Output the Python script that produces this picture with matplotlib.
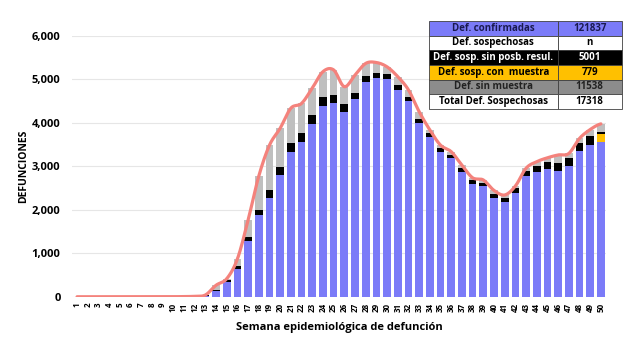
import matplotlib
matplotlib.use("Agg")
import matplotlib.pyplot as plt
import numpy as np

plt.rcParams['font.family'] = ['Open Sans', 'DejaVu Sans']

weeks = list(range(1, 51))

# confirmed deaths (blue)
confirmadas = [2, 3, 2, 3, 2, 3, 3, 2, 3, 4, 5, 8,
               30, 140, 350, 645, 1290, 1885, 2270, 2800, 3340, 3570,
               3975, 4400, 4450, 4260, 4540, 4950, 5040, 5000, 4760, 4515,
               4000, 3670, 3340, 3190, 2880, 2600, 2540, 2270, 2180, 2400,
               2770, 2880, 2935, 2905, 3010, 3365, 3495, 3555]
# suspected, with sample (yellow)
con_muestra = [0] * 48 + [10, 190]
# suspected, no possible result (black)
sin_posb = [0] * 12 + [5, 30, 50, 75, 100, 115, 200, 190, 190, 190,
                       200, 200, 200, 180, 160, 140, 120, 120, 115, 90,
                       100, 90, 75, 75, 90, 90, 90, 100, 100, 100,
                       115, 130, 160, 170, 175, 170, 190, 45]
# no sample (gray)
sin_muestra = [3, 2, 3, 2, 3, 2, 2, 3, 3, 3, 4, 8,
               10, 100, 20, 155, 380, 780, 1020, 890, 810, 690,
               625, 580, 570, 395, 400, 280, 230, 170, 190, 155,
               160, 80, 75, 75, 60, 50, 60, 80, 65, 50,
               75, 100, 105, 190, 115, 110, 155, 190]

table_labels = ["Def. confirmadas", "Def. sospechosas", "Def. sosp. sin posb. resul.",
                "Def. sosp. con  muestra", "Def. sin muestra", "Total Def. Sospechosas"]
table_values = ["121837", "n", "5001", "779", "11538", "17318"]

BLUE = '#7B7BF8'
GRAY = '#BFBFBF'
YELLOW = '#FFC000'
LINE = '#F4827C'


def smooth(x, y, n=12):
    # Catmull-Rom style smoothing just for drawing the curve
    x = np.asarray(x, float)
    y = np.asarray(y, float)
    px = np.concatenate([[2 * x[0] - x[1]], x, [2 * x[-1] - x[-2]]])
    py = np.concatenate([[y[0]], y, [y[-1]]])
    xs, ys = [], []
    t = np.linspace(0, 1, n, endpoint=False)
    for i in range(1, len(px) - 2):
        p0, p1, p2, p3 = py[i - 1], py[i], py[i + 1], py[i + 2]
        ys.append(0.5 * ((2 * p1) + (-p0 + p2) * t + (2 * p0 - 5 * p1 + 4 * p2 - p3) * t ** 2
                         + (-p0 + 3 * p1 - 3 * p2 + p3) * t ** 3))
        xs.append(px[i] + (px[i + 1] - px[i]) * t)
    xs.append([x[-1]])
    ys.append([y[-1]])
    return np.concatenate(xs), np.concatenate(ys)


fig = plt.figure(figsize=(6.42, 3.48), dpi=100)
ax = fig.add_axes([0.1117, 0.1466, 0.8326, 0.75])

x = np.arange(len(weeks))
b = np.array(confirmadas, float)
y1 = np.array(con_muestra, float)
k = np.array(sin_posb, float)
g = np.array(sin_muestra, float)
w = 0.72
ax.bar(x, b, w, color=BLUE, zorder=2)
ax.bar(x, y1, w, bottom=b, color=YELLOW, zorder=2)
ax.bar(x, k, w, bottom=b + y1, color='black', zorder=2)
ax.bar(x, g, w, bottom=b + y1 + k, color=GRAY, zorder=2)

total = b + y1 + k + g
sx, sy = smooth(x, total)
ax.plot(sx, sy, color=LINE, lw=2.3, zorder=3, solid_capstyle='round')

ax.set_xlim(-0.5, len(weeks) - 0.5)
ax.set_ylim(0, 6000)
ax.set_yticks(range(0, 6001, 1000))
ax.set_yticklabels(['{:,}'.format(v) for v in range(0, 6001, 1000)],
                   fontsize=8, fontweight='bold')
ax.set_xticks(x)
ax.set_xticklabels([str(v) for v in weeks], rotation=90, fontsize=5.8, fontweight='bold')
ax.tick_params(length=0, pad=4)
ax.tick_params(axis='y', pad=8)
ax.grid(axis='y', color='#E6E6E6', lw=0.8, zorder=0)
for s in ax.spines.values():
    s.set_visible(False)
ax.set_ylabel('DEFUNCIONES', fontsize=7.5, fontweight='bold', labelpad=2)
ax.set_xlabel('Semana epidemiológica de defunción', fontsize=8, fontweight='bold', labelpad=7)

# summary table
tax = fig.add_axes([0.668, 0.6868, 0.3006, 0.2529])
tax.axis('off')
row_bg = [BLUE, 'white', 'black', YELLOW, '#8C8C8C', 'white']
row_fg = ['#1A1A50', 'black', 'white', 'black', '#222222', 'black']
cells = [[l, v] for l, v in zip(table_labels, table_values)]
tbl = tax.table(cellText=cells, bbox=[0, 0, 1, 1], colWidths=[0.668, 0.332],
                cellLoc='center')
tbl.auto_set_font_size(False)
for (r, c), cell in tbl.get_celld().items():
    cell.set_facecolor(row_bg[r])
    cell.set_edgecolor('#404040')
    cell.set_linewidth(0.6)
    cell.get_text().set_color(row_fg[r])
    cell.get_text().set_fontsize(7)
    cell.get_text().set_fontweight('bold')

fig.savefig('out.png', dpi=100)
